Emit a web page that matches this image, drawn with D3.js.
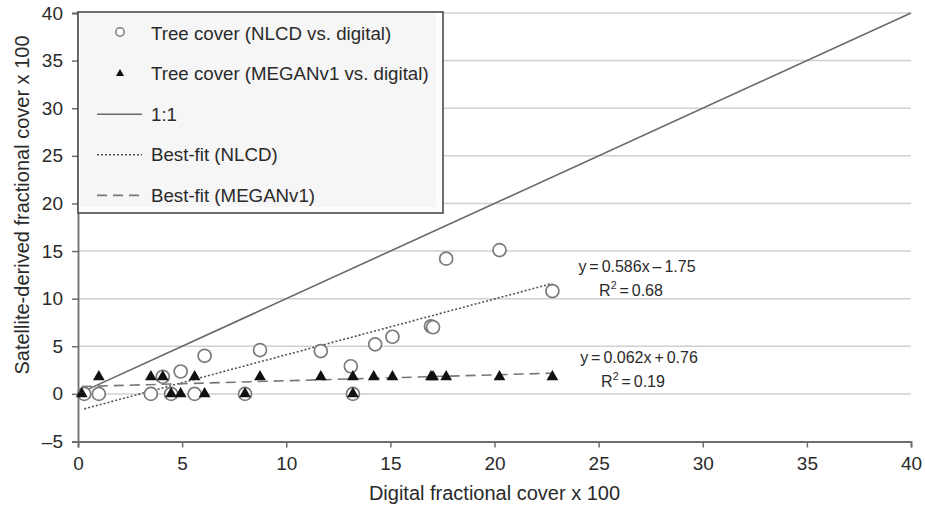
<!DOCTYPE html>
<html>
<head>
<meta charset="utf-8">
<script src="https://cdnjs.cloudflare.com/ajax/libs/d3/7.8.5/d3.min.js"></script>
<style>
    body { margin: 0; background: #fff; }
    svg { font-family: "Liberation Sans", Arial, sans-serif; }
</style>
</head>
<body>
<div id="chart-container"></div>
<script>
// digital cover (x) vs satellite cover (y)
const nlcdX = [0.3, 1.0, 3.5, 4.07, 4.47, 4.93, 5.6, 6.08, 8.02, 8.74, 11.66, 13.1, 13.2, 14.27, 15.1, 16.95, 17.05, 17.68, 20.24, 22.78];
const nlcdY = [0, 0, 0, 1.8, 0, 2.35, 0, 4.0, 0, 4.6, 4.5, 2.9, 0, 5.2, 6.0, 7.1, 7.0, 14.2, 15.1, 10.8];

const meganX = [0.18, 1.0, 3.5, 4.07, 4.47, 4.93, 5.6, 6.08, 8.02, 8.74, 11.66, 13.2, 13.2, 14.2, 15.1, 16.95, 17.05, 17.68, 20.24, 22.78];
const meganY = [0, 1.8, 1.8, 1.8, 0, 0, 1.8, 0, 0, 1.8, 1.8, 1.8, 0, 1.8, 1.8, 1.8, 1.8, 1.8, 1.8, 1.8];

const nlcdFit = { slope: 0.586, intercept: -1.75, label: "y = 0.586x \u2013 1.75", r2: "0.68" };
const meganFit = { slope: 0.062, intercept: 0.76, label: "y = 0.062x + 0.76", r2: "0.19" };

const xTicks = [0, 5, 10, 15, 20, 25, 30, 35, 40];
const yTicks = [-5, 0, 5, 10, 15, 20, 25, 30, 35, 40];

const legendLabels = [
    "Tree cover (NLCD vs. digital)",
    "Tree cover (MEGANv1 vs. digital)",
    "1:1",
    "Best-fit (NLCD)",
    "Best-fit (MEGANv1)",
];

const WIDTH = 925;
const HEIGHT = 507;
const TEXT_COLOR = '#2a2a2a';
const AXIS_COLOR = '#6e6e6e';

let mSvg = d3.select('#chart-container').append('svg')
    .attr('width', WIDTH)
    .attr('height', HEIGHT);

let mX = d3.scaleLinear().domain([0, 40]).range([78, 911]);
let mY = d3.scaleLinear().domain([-5, 40]).range([441.5, 13]);

function drawGrid() {
    mSvg.append('g').selectAll('line')
        .data(yTicks.filter(t => t > -5))
        .join('line')
        .attr('x1', mX(0))
        .attr('x2', mX(40))
        .attr('y1', d => mY(d))
        .attr('y2', d => mY(d))
        .attr('stroke', '#d0d0d0')
        .attr('stroke-width', 1.5);
}

function drawAxes() {
    let xAxis = mSvg.append('g')
        .attr('transform', `translate(0,${mY(-5)})`)
        .call(d3.axisBottom(mX).tickValues(xTicks).tickSize(6).tickPadding(9).tickFormat(d3.format('d')));
    let yAxis = mSvg.append('g')
        .attr('transform', `translate(${mX(0)},0)`)
        .call(d3.axisLeft(mY).tickValues(yTicks).tickSize(6).tickPadding(9).tickFormat(d => d < 0 ? '\u2013' + Math.abs(d) : d));

    [xAxis, yAxis].forEach(axis => {
        axis.select('.domain').attr('stroke', AXIS_COLOR).attr('stroke-width', 1.8);
        axis.selectAll('.tick line').attr('stroke', AXIS_COLOR).attr('stroke-width', 1.5);
        axis.selectAll('.tick text')
            .attr('fill', TEXT_COLOR)
            .style('font-size', '19px');
    });

    mSvg.append('text')
        .attr('x', (mX(0) + mX(40)) / 2)
        .attr('y', 500)
        .attr('text-anchor', 'middle')
        .attr('fill', TEXT_COLOR)
        .style('font-size', '20px')
        .text('Digital fractional cover x 100');

    mSvg.append('text')
        .attr('transform', 'translate(29,205) rotate(-90)')
        .attr('text-anchor', 'middle')
        .attr('fill', TEXT_COLOR)
        .style('font-size', '20px')
        .text('Satellite-derived fractional cover x 100');
}

function fitLine(fit, xs) {
    let x0 = d3.min(xs);
    let x1 = d3.max(xs);
    return [[x0, fit.slope * x0 + fit.intercept], [x1, fit.slope * x1 + fit.intercept]];
}

function drawLines() {
    let line = d3.line().x(d => mX(d[0])).y(d => mY(d[1]));

    mSvg.append('path')
        .attr('d', line([[0, 0], [40, 40]]))
        .attr('fill', 'none')
        .attr('stroke', '#6a6a6a')
        .attr('stroke-width', 1.6);

    mSvg.append('path')
        .attr('d', line(fitLine(nlcdFit, nlcdX)))
        .attr('fill', 'none')
        .attr('stroke', '#555')
        .attr('stroke-width', 1.6)
        .attr('stroke-dasharray', '2,2');

    mSvg.append('path')
        .attr('d', line(fitLine(meganFit, meganX)))
        .attr('fill', 'none')
        .attr('stroke', '#777')
        .attr('stroke-width', 1.6)
        .attr('stroke-dasharray', '10,6');
}

function drawPoints() {
    mSvg.append('g').selectAll('circle')
        .data(d3.zip(nlcdX, nlcdY))
        .join('circle')
        .attr('cx', d => mX(d[0]))
        .attr('cy', d => mY(d[1]))
        .attr('r', 6.5)
        .attr('fill', '#fff')
        .attr('stroke', '#7a7a7a')
        .attr('stroke-width', 1.7);

    let triangle = d3.symbol().type(d3.symbolTriangle).size(60);
    mSvg.append('g').selectAll('path')
        .data(d3.zip(meganX, meganY))
        .join('path')
        .attr('transform', d => `translate(${mX(d[0])},${mY(d[1])})`)
        .attr('d', triangle)
        .attr('fill', '#111');
}

function drawEquations() {
    [[nlcdFit, 272, 637], [meganFit, 363, 639]].forEach(([fit, baseline, cx]) => {
        mSvg.append('text')
            .attr('x', cx)
            .attr('y', baseline)
            .attr('text-anchor', 'middle')
            .attr('fill', TEXT_COLOR)
            .style('font-size', '16px')
            .style('word-spacing', '-1.5px')
            .text(fit.label);
        let r2 = mSvg.append('text')
            .attr('x', cx - 6)
            .attr('y', baseline + 23.5)
            .attr('text-anchor', 'middle')
            .attr('fill', TEXT_COLOR)
            .style('font-size', '16px')
            .style('word-spacing', '-1.5px');
        r2.append('tspan').text('R');
        r2.append('tspan').attr('dy', -7).style('font-size', '10.5px').text('2');
        r2.append('tspan').attr('dy', 7).text(' = ' + fit.r2);
    });
}

function drawLegend() {
    let legend = mSvg.append('g');
    legend.append('rect')
        .attr('x', 78).attr('y', 12)
        .attr('width', 365).attr('height', 201)
        .attr('fill', '#fdfdfd')
        .attr('stroke', '#4a4a4a')
        .attr('stroke-width', 1.6);
    legend.append('rect')
        .attr('x', 80).attr('y', 14)
        .attr('width', 356).attr('height', 193)
        .attr('fill', '#f6f6f6');

    let baselines = legendLabels.map((l, i) => 39.5 + i * 40.6);
    legend.selectAll('text')
        .data(legendLabels)
        .join('text')
        .attr('x', 151)
        .attr('y', (d, i) => baselines[i])
        .attr('fill', TEXT_COLOR)
        .style('font-size', '18.7px')
        .text(d => d);

    legend.append('circle')
        .attr('cx', 120).attr('cy', baselines[0] - 7.5)
        .attr('r', 4.2)
        .attr('fill', '#fff')
        .attr('stroke', '#7a7a7a')
        .attr('stroke-width', 1.5);
    legend.append('path')
        .attr('transform', `translate(120,${baselines[1] - 6.5})`)
        .attr('d', d3.symbol().type(d3.symbolTriangle).size(28))
        .attr('fill', '#111');

    [['none', '#6a6a6a'], ['2,2', '#555'], ['10,6', '#777']].forEach(([dash, color], i) => {
        legend.append('line')
            .attr('x1', 97).attr('x2', 142)
            .attr('y1', baselines[i + 2] - 6.5)
            .attr('y2', baselines[i + 2] - 6.5)
            .attr('stroke', color)
            .attr('stroke-width', 1.6)
            .attr('stroke-dasharray', dash);
    });
}

drawGrid();
drawLines();
drawAxes();
drawPoints();
drawEquations();
drawLegend();
</script>
</body>
</html>
